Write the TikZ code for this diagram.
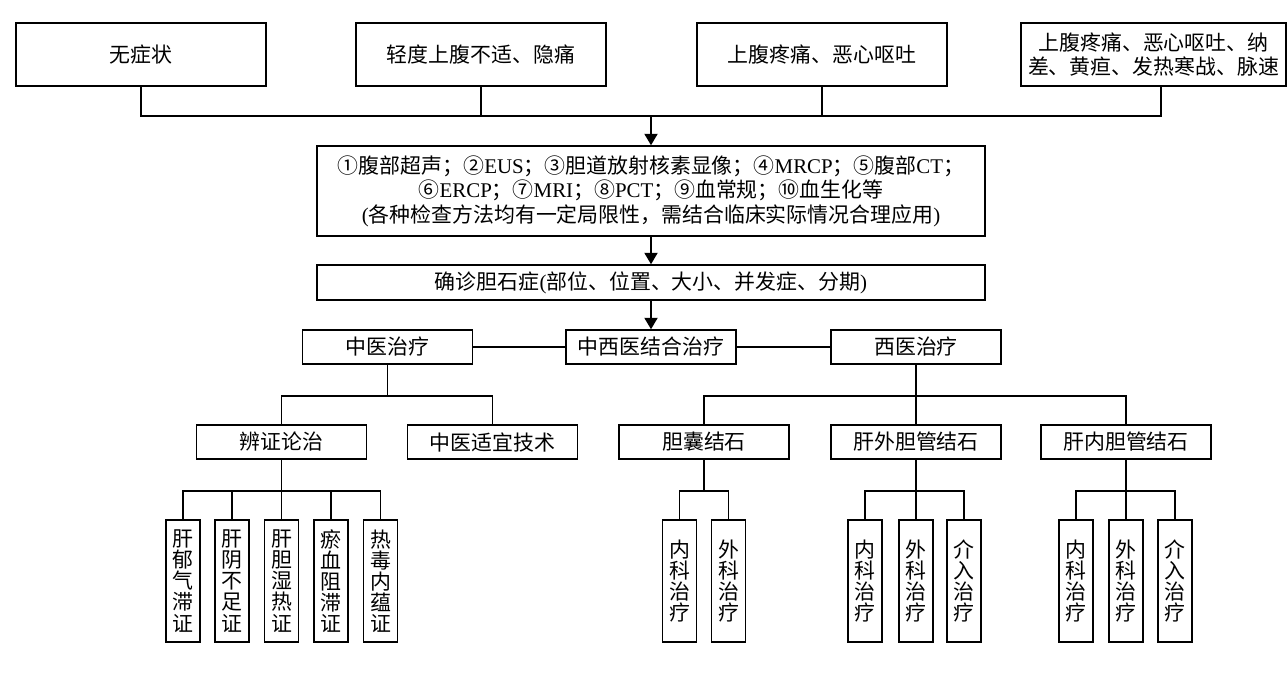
\documentclass[tikz,border=0pt]{standalone}
\usepackage{fontspec}
\setmainfont{Liberation Serif}
\newfontfamily\cjk{Noto Sans CJK SC}
\XeTeXlinebreaklocale "zh"
\XeTeXlinebreakskip=0pt plus 1pt
\usetikzlibrary{arrows.meta}

\newcommand{\latn}[1]{{\rmfamily #1}}

\tikzset{
    box/.style={draw, line width=0.9pt, inner sep=0pt, align=center,
        font=\cjk\fontsize{11.9}{13.9}\selectfont},
    topbox/.style={box, minimum width=5cm, minimum height=1.26cm},
    midbox/.style={box, minimum width=3.4cm, minimum height=0.68cm},
    tallbox/.style={box, minimum width=0.68cm, minimum height=2.44cm,
        text width=12pt, font=\cjk\fontsize{11.9}{12}\selectfont}
}

\begin{document}
\begin{tikzpicture}[x=0.02cm, y=-0.02cm, >={Triangle[length=6.5pt, width=7.5pt]}, line width=0.8pt]
    \useasboundingbox (0,0) rectangle (1288,674);

    % symptoms
    \node[topbox] (sym1) at (141,54.5) {无症状};
    \node[topbox] (sym2) at (481,54.5) {轻度上腹不适、隐痛};
    \node[topbox] (sym3) at (822,54.5) {上腹疼痛、恶心呕吐};
    \node[topbox, minimum width=5.3cm] (sym4) at (1153.5,54.5) {上腹疼痛、恶心呕吐、纳\\差、黄疸、发热寒战、脉速};

    \coordinate (topbus) at (651,116);
    \draw (sym1.south) |- (topbus);
    \draw (sym2.south) -- (sym2.south |- topbus);
    \draw (sym3.south) -- (sym3.south |- topbus);
    \draw ([xshift=0.15cm]sym4.south) |- (topbus);

    % examinations and diagnosis
    \node[box, minimum width=13.36cm, minimum height=1.8cm] (exam) at (651,191)
        {①腹部超声；②\latn{EUS}；③胆道放射核素显像；④\latn{MRCP}；⑤腹部\latn{CT}；\\
         ⑥\latn{ERCP}；⑦\latn{MRI}；⑧\latn{PCT}；⑨血常规；⑩血生化等\\
         \latn{(}各种检查方法均有一定局限性，需结合临床实际情况合理应用\latn{)}};
    \node[box, minimum width=13.36cm, minimum height=0.7cm] (diag) at (651,282.5)
        {确诊胆石症\latn{(}部位、位置、大小、并发症、分期\latn{)}};
    \draw[->] (topbus) -- (exam);
    \draw[->] (exam) -- (diag);

    % treatment
    \node[midbox] (combo) at (651,347) {中西医结合治疗};
    \node[midbox] (tcm) at (387.5,347) {中医治疗};
    \node[midbox] (wm) at (916,347) {西医治疗};
    \draw[->] (diag) -- (combo);
    \draw (tcm) -- (combo) -- (wm);

    \node[midbox] (bz) at (281.5,442) {辨证论治};
    \node[midbox] (tech) at (492.5,442) {中医适宜技术};
    \draw (tcm.south) -- ++(0,31) coordinate (tcmbus);
    \draw (bz.north) |- (tcmbus) -| (tech.north);

    \node[midbox] (gb) at (704,442) {胆囊结石};
    \node[midbox] (ext) at (916,442) {肝外胆管结石};
    \node[midbox] (intr) at (1126,442) {肝内胆管结石};
    \draw (wm.south) -- ++(0,31) coordinate (wmbus);
    \draw (gb.north) |- (wmbus) -| (intr.north);
    \draw (wmbus) -- (ext.north);

    % syndromes
    \draw (bz.south) -- ++(0,31) coordinate (bzbus);
    \foreach \idx/\px/\lbl in {
        1/183/肝郁气滞证,
        2/232/肝阴不足证,
        3/281.5/肝胆湿热证,
        4/331/瘀血阻滞证,
        5/380.5/热毒内蕴证
    } {
        \node[tallbox] (bz\idx) at (\px,581) {\lbl};
        \draw (bz\idx.north) |- (bzbus);
    }

    % therapies
    \draw (gb.south) -- ++(0,31) coordinate (gbbus);
    \foreach \idx/\px/\lbl in {
        1/679.5/内科治疗,
        2/728.5/外科治疗
    } {
        \node[tallbox] (gb\idx) at (\px,581) {\lbl};
        \draw (gb\idx.north) |- (gbbus);
    }

    \draw (ext.south) -- ++(0,31) coordinate (extbus);
    \foreach \idx/\px/\lbl in {
        1/865/内科治疗,
        2/916/外科治疗,
        3/964/介入治疗
    } {
        \node[tallbox] (ext\idx) at (\px,581) {\lbl};
        \draw (ext\idx.north) |- (extbus);
    }

    \draw (intr.south) -- ++(0,31) coordinate (intrbus);
    \foreach \idx/\px/\lbl in {
        1/1076/内科治疗,
        2/1126/外科治疗,
        3/1175/介入治疗
    } {
        \node[tallbox] (intr\idx) at (\px,581) {\lbl};
        \draw (intr\idx.north) |- (intrbus);
    }
\end{tikzpicture}
\end{document}
